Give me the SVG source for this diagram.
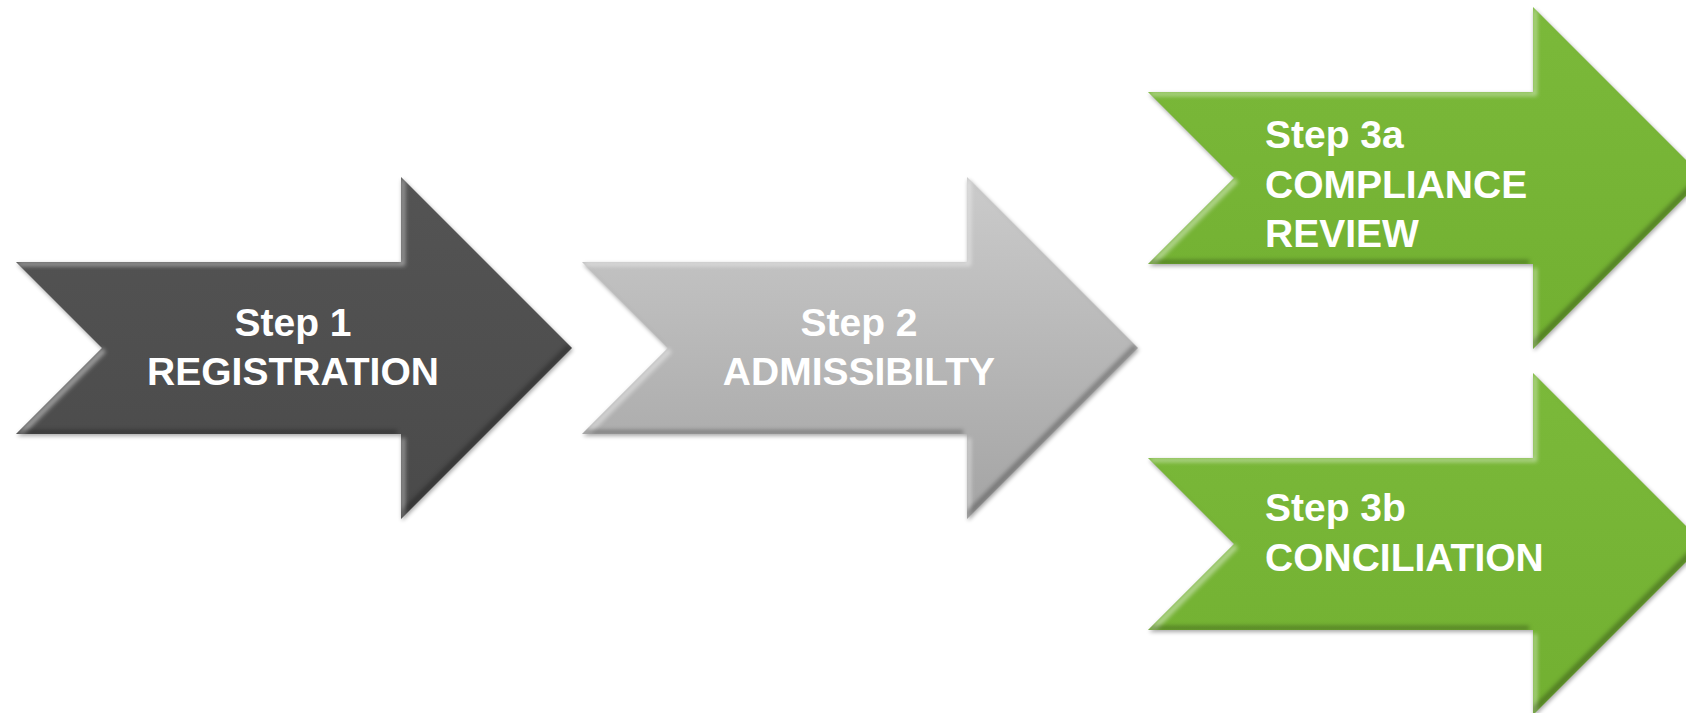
<svg xmlns="http://www.w3.org/2000/svg" width="1686" height="713" viewBox="0 0 1686 713">
  <style>
    .label { font-family: "Liberation Sans", Arial, sans-serif; font-weight: bold; font-size: 39px; fill: #ffffff; }
    .mid { text-anchor: middle; }
  </style>
  <defs>
    <!-- block arrow, origin at left edge / head top -->
    <path id="arrowShape" d="M0,85 H385 V0 L556,171 L385,342 V257 H0 L86,171 Z"/>
    <linearGradient id="gDark" x1="0" y1="0" x2="0" y2="1">
      <stop offset="0" stop-color="#545454"/>
      <stop offset="1" stop-color="#4a4a4a"/>
    </linearGradient>
    <linearGradient id="gLight" x1="0" y1="0" x2="0" y2="1">
      <stop offset="0" stop-color="#cbcbcb"/>
      <stop offset="1" stop-color="#a4a4a4"/>
    </linearGradient>
    <linearGradient id="gGreen" x1="0" y1="0" x2="0" y2="1">
      <stop offset="0" stop-color="#7bb93a"/>
      <stop offset="1" stop-color="#72b031"/>
    </linearGradient>
    <!-- soft bevel rim plus a light drop shadow -->
    <filter id="bevel" x="-3%" y="-3%" width="106%" height="108%" color-interpolation-filters="sRGB">
      <feOffset in="SourceAlpha" dx="4" dy="4" result="offTL"/>
      <feComposite in="SourceAlpha" in2="offTL" operator="out" result="rimTL"/>
      <feGaussianBlur in="rimTL" stdDeviation="2" result="rimTLb"/>
      <feComposite in="rimTLb" in2="SourceAlpha" operator="in" result="rimTLc"/>
      <feFlood flood-color="#ffffff" flood-opacity="0.45"/>
      <feComposite in2="rimTLc" operator="in" result="hi"/>
      <feOffset in="SourceAlpha" dx="-4" dy="-4" result="offBR"/>
      <feComposite in="SourceAlpha" in2="offBR" operator="out" result="rimBR"/>
      <feGaussianBlur in="rimBR" stdDeviation="2" result="rimBRb"/>
      <feComposite in="rimBRb" in2="SourceAlpha" operator="in" result="rimBRc"/>
      <feFlood flood-color="#000000" flood-opacity="0.3"/>
      <feComposite in2="rimBRc" operator="in" result="lo"/>
      <feGaussianBlur in="SourceAlpha" stdDeviation="2"/>
      <feOffset dx="1" dy="2"/>
      <feComponentTransfer><feFuncA type="linear" slope="0.35"/></feComponentTransfer>
      <feMerge>
        <feMergeNode/>
        <feMergeNode in="SourceGraphic"/>
        <feMergeNode in="hi"/>
        <feMergeNode in="lo"/>
      </feMerge>
    </filter>
  </defs>

  <rect width="1686" height="713" fill="#ffffff"/>

  <g id="step1">
    <use href="#arrowShape" transform="translate(16,177)" fill="url(#gDark)" filter="url(#bevel)"/>
    <text class="label mid" x="293" y="336">Step 1</text>
    <text class="label mid" x="293" y="385">REGISTRATION</text>
  </g>

  <g id="step2">
    <use href="#arrowShape" transform="translate(582,177)" fill="url(#gLight)" filter="url(#bevel)"/>
    <text class="label mid" x="859" y="336">Step 2</text>
    <text class="label mid" x="859" y="385">ADMISSIBILTY</text>
  </g>

  <g id="step3a">
    <use href="#arrowShape" transform="translate(1148,7)" fill="url(#gGreen)" filter="url(#bevel)"/>
    <text class="label" x="1265" y="148">Step 3a</text>
    <text class="label" x="1265" y="198">COMPLIANCE</text>
    <text class="label" x="1265" y="247">REVIEW</text>
  </g>

  <g id="step3b">
    <use href="#arrowShape" transform="translate(1148,373)" fill="url(#gGreen)" filter="url(#bevel)"/>
    <text class="label" x="1265" y="521">Step 3b</text>
    <text class="label" x="1265" y="571">CONCILIATION</text>
  </g>
</svg>
